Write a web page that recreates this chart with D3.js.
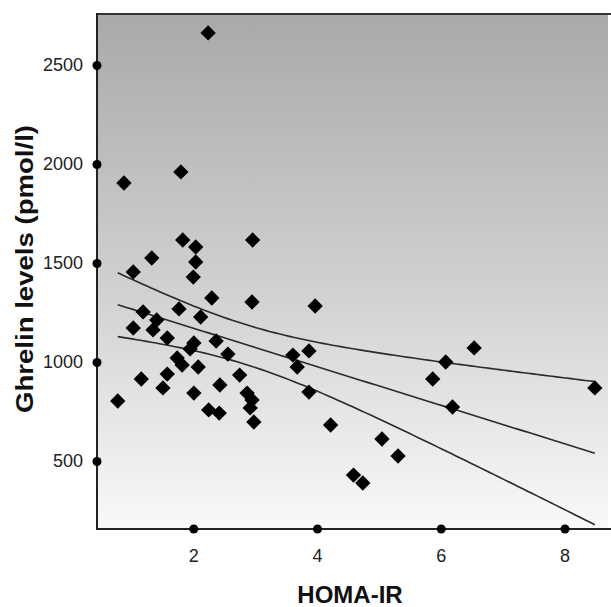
<!DOCTYPE html>
<html>
<head>
<meta charset="utf-8">
<script src="https://cdn.jsdelivr.net/npm/d3@7"></script>
<style>
  html, body { margin: 0; padding: 0; background: #fff; }
  svg { display: block; }
</style>
</head>
<body>
<svg id="chart" width="611" height="607"></svg>
<script>
// HOMA-IR values (x) and Ghrelin levels in pmol/l (y)
const homaIR = [2.24, 0.88, 1.80, 1.83, 2.04, 2.04, 2.00, 2.96, 1.33, 1.03,
                2.30, 2.95, 3.97, 1.19, 1.77, 2.12, 1.41, 1.03, 1.35, 1.58,
                2.01, 1.95, 2.37, 1.74, 1.82, 2.08, 1.58, 1.16, 1.51, 2.01,
                0.78, 2.25, 2.42, 2.56, 2.75, 2.43, 2.87, 2.95, 2.92, 2.98,
                3.61, 3.68, 3.87, 3.87, 4.22, 5.05, 5.31, 4.59, 4.74, 6.54,
                6.08, 5.87, 6.19, 8.49];
const ghrelin = [2662, 1904, 1960, 1616, 1581, 1505, 1429, 1616, 1525, 1455,
                 1323, 1303, 1283, 1253, 1268, 1227, 1212, 1172, 1162, 1121,
                 1096, 1066, 1106, 1020, 985, 975, 939, 914, 869, 843,
                 803, 758, 742, 1040, 934, 884, 843, 808, 768, 697,
                 1035, 975, 1056, 848, 682, 611, 525, 429, 389, 1071,
                 1000, 914, 773, 869];
const xTicks = [2, 4, 6, 8];
const yTicks = [500, 1000, 1500, 2000, 2500];
const xTitle = "HOMA-IR";
const yTitle = "Ghrelin levels (pmol/l)";

const svg = d3.select("#chart");
const L = 97, R = 608, T = 14, B = 529;

const x = d3.scaleLinear().domain([0, 8]).range([69.5, 564.5]);
const y = d3.scaleLinear().domain([0, 2500]).range([560, 65]);

// gradient background
const defs = svg.append("defs");
const grad = defs.append("linearGradient").attr("id", "bg")
  .attr("x1", 0).attr("y1", 0).attr("x2", 0).attr("y2", 1);
grad.append("stop").attr("offset", "0%").attr("stop-color", "#a9a9a9");
grad.append("stop").attr("offset", "55%").attr("stop-color", "#d2d2d2");
grad.append("stop").attr("offset", "100%").attr("stop-color", "#f9f9f9");
svg.append("rect").attr("x", L).attr("y", T).attr("width", R - L).attr("height", B - T)
  .attr("fill", "url(#bg)");

const clip = defs.append("clipPath").attr("id", "clip");
clip.append("rect").attr("x", L).attr("y", T).attr("width", R - L).attr("height", B - T);

// regression with 95% confidence band, computed from the data
const n = homaIR.length;
const mx = d3.mean(homaIR), my = d3.mean(ghrelin);
let sxx = 0, sxy = 0;
for (let i = 0; i < n; i++) { sxx += (homaIR[i] - mx) ** 2; sxy += (homaIR[i] - mx) * (ghrelin[i] - my); }
const b1 = sxy / sxx, b0 = my - b1 * mx;
let sse = 0;
for (let i = 0; i < n; i++) sse += (ghrelin[i] - (b0 + b1 * homaIR[i])) ** 2;
const s = Math.sqrt(sse / (n - 2));
const tval = 2.0066;
const xmin = d3.min(homaIR), xmax = d3.max(homaIR);
const xs = d3.range(0, 101).map(k => xmin + (xmax - xmin) * k / 100);
const fit = k => b0 + b1 * k;
const half = k => tval * s * Math.sqrt(1 / n + (k - mx) ** 2 / sxx);
const lineGen = d3.line().x(d => x(d[0])).y(d => y(d[1]));
const g = svg.append("g").attr("clip-path", "url(#clip)");
[xs.map(k => [k, fit(k) + half(k)]), xs.map(k => [k, fit(k)]), xs.map(k => [k, fit(k) - half(k)])]
  .forEach(pts => g.append("path").attr("d", lineGen(pts)).attr("fill", "none")
    .attr("stroke", "#2a2a2a").attr("stroke-width", 1.6));

// points (diamonds)
const sym = d3.symbol().type(d3.symbolSquare).size(118);
g.selectAll("path.pt").data(homaIR.map((v, i) => [v, ghrelin[i]])).enter()
  .append("path").attr("class", "pt").attr("d", sym)
  .attr("transform", d => `translate(${x(d[0])},${y(d[1])}) rotate(45)`)
  .attr("fill", "#000");

// frame lines
svg.append("line").attr("x1", L).attr("x2", 611).attr("y1", T).attr("y2", T)
  .attr("stroke", "#333").attr("stroke-width", 2);
svg.append("line").attr("x1", L).attr("x2", L).attr("y1", T - 1).attr("y2", B + 1)
  .attr("stroke", "#222").attr("stroke-width", 2);
svg.append("line").attr("x1", L).attr("x2", 611).attr("y1", B).attr("y2", B)
  .attr("stroke", "#222").attr("stroke-width", 2);

// axes using d3 axis generators, then styled
const xAxis = svg.append("g").attr("transform", `translate(0,${B})`)
  .call(d3.axisBottom(x).tickValues(xTicks).tickSize(0).tickPadding(20).tickFormat(d3.format("d")));
xAxis.select(".domain").remove();
xAxis.selectAll("text").attr("font-family", "Liberation Sans, Arial, sans-serif")
  .attr("font-size", 18).attr("fill", "#222");
xAxis.selectAll(".tick").append("circle").attr("r", 4.5).attr("fill", "#000");

const yAxis = svg.append("g").attr("transform", `translate(${L},0)`)
  .call(d3.axisLeft(y).tickValues(yTicks).tickSize(0).tickPadding(14).tickFormat(d3.format("d")));
yAxis.select(".domain").remove();
yAxis.selectAll("text").attr("font-family", "Liberation Sans, Arial, sans-serif")
  .attr("font-size", 18).attr("fill", "#222");
yAxis.selectAll(".tick").append("circle").attr("r", 4.5).attr("fill", "#000");

// titles
svg.append("text").attr("x", 350).attr("y", 603).attr("text-anchor", "middle")
  .attr("font-family", "Liberation Sans, Arial, sans-serif").attr("font-weight", "bold")
  .attr("font-size", 24).attr("fill", "#111").text(xTitle);
svg.append("text").attr("transform", "translate(33,269) rotate(-90)").attr("text-anchor", "middle")
  .attr("font-family", "Liberation Sans, Arial, sans-serif").attr("font-weight", "bold")
  .attr("font-size", 23).attr("fill", "#111")
  .attr("textLength", 288).attr("lengthAdjust", "spacingAndGlyphs").text(yTitle);
</script>
</body>
</html>
